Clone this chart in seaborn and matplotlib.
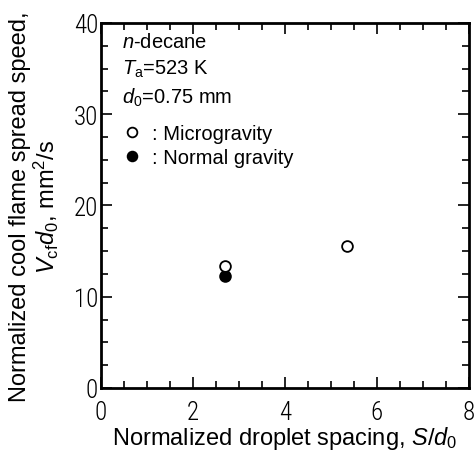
import pandas as pd
import numpy as np
import matplotlib
matplotlib.use('Agg')
import matplotlib.pyplot as plt
import seaborn as sns
from matplotlib.lines import Line2D
from matplotlib.ticker import MultipleLocator

# data
spacing = [2.70, 5.35, 2.70]
speed = [13.4, 15.6, 12.3]
gravity = ['Microgravity', 'Microgravity', 'Normal gravity']

df = pd.DataFrame({'spacing': spacing, 'speed': speed, 'gravity': gravity})

sns.set_style('ticks')
plt.rcParams['font.family'] = ['Liberation Sans', 'DejaVu Sans']
plt.rcParams['mathtext.fontset'] = 'custom'
plt.rcParams['mathtext.rm'] = 'Liberation Sans'
plt.rcParams['mathtext.it'] = 'Liberation Sans:italic'
for k in ['text.color', 'axes.labelcolor', 'xtick.color', 'ytick.color', 'axes.edgecolor']:
    plt.rcParams[k] = 'black'

fig = plt.figure(figsize=(4.75, 4.52), dpi=100)
ax = fig.add_axes([0.2126, 0.1394, 0.7744, 0.8076])

face = {'Microgravity': 'white', 'Normal gravity': 'black'}
for g, sub in df.groupby('gravity'):
    sns.scatterplot(data=sub, x='spacing', y='speed', ax=ax, s=60,
                    color=face[g], edgecolor='black', linewidth=1.3,
                    zorder=3 if g == 'Microgravity' else 2, legend=False)

ax.set_xlim(0, 8)
ax.set_ylim(0, 40)
ax.xaxis.set_major_locator(MultipleLocator(2))
ax.xaxis.set_minor_locator(MultipleLocator(0.5))
ax.yaxis.set_major_locator(MultipleLocator(10))
ax.yaxis.set_minor_locator(MultipleLocator(2.5))
ax.tick_params(which='both', direction='in', top=True, right=True, width=1.2)
ax.tick_params(which='major', length=8, labelsize=18,
               labelfontfamily=['Roboto Condensed', 'Liberation Sans'])
ax.tick_params(axis='x', which='major', pad=9)
ax.tick_params(axis='y', which='major', pad=2)
ax.tick_params(which='minor', length=5)
for lab in ax.get_xticklabels() + ax.get_yticklabels():
    lab.set_fontweight('light')
for sp in ax.spines.values():
    sp.set_linewidth(2)

ax.set_xlabel('Normalized droplet spacing, $S/d_0$', fontsize=17, labelpad=0)
ax.set_ylabel('Normalized cool flame spread speed,\n$V_{\\mathrm{cf}}d_0$, mm$^2$/s',
              fontsize=17, labelpad=9, linespacing=1.05)

ax.text(0.056, 0.933, '$n$-decane', transform=ax.transAxes, fontsize=14.5, va='baseline')
ax.text(0.056, 0.861, '$T_\\mathrm{a}$=523 K', transform=ax.transAxes, fontsize=14.5, va='baseline')
ax.text(0.056, 0.782, '$d_0$=0.75 mm', transform=ax.transAxes, fontsize=14.5, va='baseline')

handles = [Line2D([], [], ls='none', marker='o', ms=7, mfc='white', mec='black', mew=1.3),
           Line2D([], [], ls='none', marker='o', ms=7, mfc='black', mec='black', mew=1.3)]
ax.legend(handles, [': Microgravity', ': Normal gravity'], loc='upper left',
          bbox_to_anchor=(0.03, 0.75), frameon=False, fontsize=14.5,
          handlelength=1.0, handletextpad=0.5, labelspacing=0.25, borderpad=0)

fig.savefig('out.png', dpi=100)
